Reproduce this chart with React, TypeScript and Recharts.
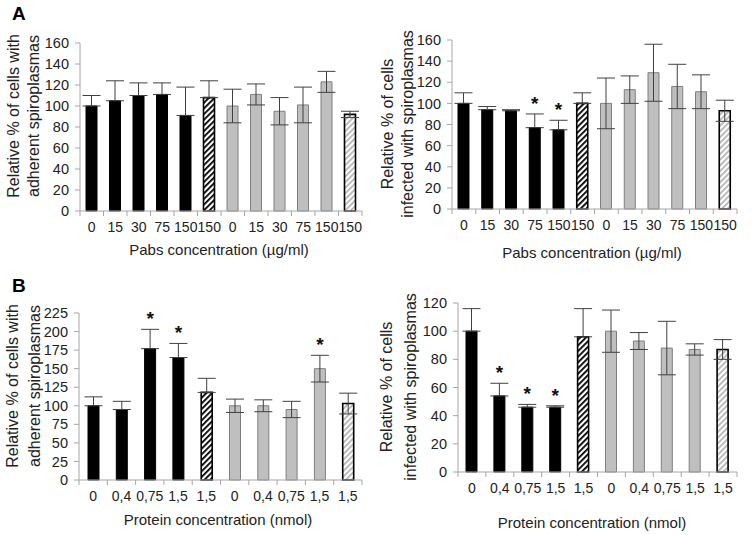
import { BarChart, Bar, XAxis, YAxis, Cell, ErrorBar, LabelList } from 'recharts'

const FONT = '"Liberation Sans", Arial, sans-serif'
const AXIS = '#a6a6a6'
const TEXT = '#222222'

// Panel A: Pabs concentration
const groupsA = ['0', '15', '30', '75', '150', '150', '0', '15', '30', '75', '150', '150']
const kindsA = ['black', 'black', 'black', 'black', 'black', 'hatchDark', 'gray', 'gray', 'gray', 'gray', 'gray', 'hatchLight']
const adherentA = [100, 105, 110, 111, 91, 108, 100, 111, 95, 101, 123, 92]
const adherentAErr = [10, 19, 12, 11, 27, 16, 16, 10, 13, 17, 10, 3]
const adherentASig = ['', '', '', '', '', '', '', '', '', '', '', '']
const infectedA = [100, 94, 93, 77, 75, 100, 100, 113, 129, 116, 111, 93]
const infectedAErr = [10, 3, 1, 13, 9, 10, 24, 13, 27, 21, 16, 10]
const infectedASig = ['', '', '', '*', '*', '', '', '', '', '', '', '']
const ticksA = [0, 20, 40, 60, 80, 100, 120, 140, 160]

// Panel B: protein concentration
const groupsB = ['0', '0,4', '0,75', '1,5', '1,5', '0', '0,4', '0,75', '1,5', '1,5']
const kindsB = ['black', 'black', 'black', 'black', 'hatchDark', 'gray', 'gray', 'gray', 'gray', 'hatchLight']
const adherentB = [100, 95, 177, 165, 118, 100, 100, 95, 150, 103]
const adherentBErr = [12, 11, 26, 19, 19, 9, 8, 11, 18, 14]
const adherentBSig = ['', '', '*', '*', '', '', '', '', '*', '']
const ticksBLeft = [0, 25, 50, 75, 100, 125, 150, 175, 200, 225]
const infectedB = [100, 54, 46, 46, 96, 100, 93, 88, 87, 87]
const infectedBErr = [16, 9, 2, 1, 20, 15, 6, 19, 4, 7]
const infectedBSig = ['', '*', '*', '*', '', '', '', '', '', '']
const ticksBRight = [0, 20, 40, 60, 80, 100, 120]

// "opaque" bars hide the lower half of their error bar, as in the original figure
const STYLES: Record<string, { fill: string; stroke: string; sw: number; opaque: boolean }> = {
  black: { fill: '#000000', stroke: '#000000', sw: 1, opaque: true },
  hatchDark: { fill: 'url(#hatchDark)', stroke: '#000000', sw: 1.6, opaque: true },
  gray: { fill: '#bfbfbf', stroke: '#7f7f7f', sw: 1, opaque: false },
  hatchLight: { fill: 'url(#hatchLight)', stroke: '#000000', sw: 1.6, opaque: false },
}

type PanelProps = {
  left: number
  top: number
  width: number
  height: number
  margin: { top: number; right: number; left: number; bottom: number }
  yWidth: number
  xHeight: number
  ticks: number[]
  labels: string[]
  kinds: string[]
  values: number[]
  errs: number[]
  sigs: string[]
  yLines: string[]
  yLineX: number[]
  yCenter: number
  xTitle: string
  xTitleX: number
  xTitleY: number
}

function Panel(p: PanelProps) {
  const data = p.labels.map((name, i) => ({
    name,
    value: p.values[i],
    err: p.errs[i],
    opaque: STYLES[p.kinds[i]].opaque,
    sig: p.sigs[i],
  }))

  const renderTick = (props: any) => {
    const { x, y, payload, index, visibleTicksCount } = props
    const half = payload?.offset ?? 0
    const axisY = y - 8
    const idx = payload?.index ?? index
    return (
      <g>
        <line x1={x - half} x2={x - half} y1={axisY} y2={axisY + 5} stroke={AXIS} />
        {index === visibleTicksCount - 1 && (
          <line x1={x + half} x2={x + half} y1={axisY} y2={axisY + 5} stroke={AXIS} />
        )}
        <text x={x} y={axisY + 21} textAnchor="middle" fill={TEXT} fontSize={14} fontFamily={FONT}>
          {p.labels[idx]}
        </text>
      </g>
    )
  }

  const renderStar = (props: any) => {
    const { x, y, width, height, index, value } = props
    if (!value) return null
    const v = p.values[index]
    const errPx = v ? (Math.abs(height) * p.errs[index]) / v : 0
    return (
      <text x={x + width / 2} y={y - errPx - 4} textAnchor="middle" fontSize={19} fontWeight="bold" fill="#111" fontFamily={FONT}>
        *
      </text>
    )
  }

  return (
    <div style={{ position: 'absolute', left: p.left, top: p.top, width: p.width, height: p.height }}>
      <BarChart width={p.width} height={p.height} data={data} margin={p.margin} barCategoryGap={0}>
        <XAxis
          dataKey="name"
          height={p.xHeight}
          interval={0}
          tickLine={false}
          axisLine={{ stroke: AXIS }}
          tick={renderTick}
        />
        <YAxis
          width={p.yWidth}
          domain={[p.ticks[0], p.ticks[p.ticks.length - 1]]}
          ticks={p.ticks}
          interval={0}
          tickSize={5}
          tickMargin={6}
          axisLine={{ stroke: AXIS }}
          tickLine={{ stroke: AXIS }}
          tick={{ fill: TEXT, fontSize: 14.5, fontFamily: FONT }}
        />
        <Bar dataKey="value" barSize={11} isAnimationActive={false}>
          {data.map((_, i) => {
            const s = STYLES[p.kinds[i]]
            return <Cell key={i} fill={s.fill} stroke={s.stroke} strokeWidth={s.sw} />
          })}
          <ErrorBar
            dataKey={(d: any) => (d.opaque ? [0, d.err] : [d.err, d.err])}
            width={9}
            stroke="#404040"
            strokeWidth={1}
            direction="y"
          />
          <LabelList dataKey="sig" content={renderStar} />
        </Bar>
      </BarChart>
      {p.yLines.map((line, i) => (
        <div
          key={line}
          style={{
            position: 'absolute',
            left: p.yLineX[i],
            top: p.yCenter,
            transform: 'translate(-50%, -50%) rotate(-90deg)',
            whiteSpace: 'nowrap',
            fontFamily: FONT,
            fontSize: 16,
            color: TEXT,
            lineHeight: '18px',
          }}
        >
          {line}
        </div>
      ))}
      <div
        style={{
          position: 'absolute',
          left: p.xTitleX,
          top: p.xTitleY,
          transform: 'translate(-50%, -50%)',
          whiteSpace: 'nowrap',
          fontFamily: FONT,
          fontSize: 15,
          color: TEXT,
          lineHeight: '18px',
        }}
      >
        {p.xTitle}
      </div>
    </div>
  )
}

export default function App() {
  return (
    <div style={{ position: 'absolute', left: 0, top: 0, width: 755, height: 535, background: '#fff', overflow: 'hidden' }}>
      <svg width={0} height={0} style={{ position: 'absolute' }}>
        <defs>
          <pattern id="hatchDark" patternUnits="userSpaceOnUse" width={4} height={4} patternTransform="rotate(45)">
            <rect width={4} height={4} fill="#fff" />
            <rect width={1.8} height={4} fill="#000" />
          </pattern>
          <pattern id="hatchLight" patternUnits="userSpaceOnUse" width={4} height={4} patternTransform="rotate(45)">
            <rect width={4} height={4} fill="#fff" />
            <rect width={1.8} height={4} fill="#b5b5b5" />
          </pattern>
        </defs>
      </svg>

      <div style={{ position: 'absolute', left: 12, top: 3, fontFamily: FONT, fontWeight: 'bold', fontSize: 19 }}>A</div>
      <div style={{ position: 'absolute', left: 12, top: 275, fontFamily: FONT, fontWeight: 'bold', fontSize: 19 }}>B</div>

      <Panel
        left={0} top={0} width={375} height={270}
        margin={{ top: 43, right: 13, left: 0, bottom: 0 }}
        yWidth={80} xHeight={59}
        ticks={ticksA} labels={groupsA} kinds={kindsA}
        values={adherentA} errs={adherentAErr} sigs={adherentASig}
        yLines={['Relative % of cells with', 'adherent spiroplasmas']} yLineX={[14, 34]} yCenter={116}
        xTitle="Pabs concentration (µg/ml)" xTitleX={219} xTitleY={250}
      />
      <Panel
        left={375} top={0} width={380} height={270}
        margin={{ top: 40, right: 18, left: 0, bottom: 0 }}
        yWidth={77} xHeight={61}
        ticks={ticksA} labels={groupsA} kinds={kindsA}
        values={infectedA} errs={infectedAErr} sigs={infectedASig}
        yLines={['Relative % of cells', 'infected with spiroplasmas']} yLineX={[13, 33]} yCenter={124}
        xTitle="Pabs concentration (µg/ml)" xTitleX={217} xTitleY={253}
      />
      <Panel
        left={0} top={270} width={375} height={265}
        margin={{ top: 43, right: 13, left: 0, bottom: 0 }}
        yWidth={79} xHeight={55}
        ticks={ticksBLeft} labels={groupsB} kinds={kindsB}
        values={adherentB} errs={adherentBErr} sigs={adherentBSig}
        yLines={['Relative % of cells with', 'adherent spiroplasmas']} yLineX={[13, 35]} yCenter={116}
        xTitle="Protein concentration (nmol)" xTitleX={218} xTitleY={250}
      />
      <Panel
        left={375} top={270} width={380} height={265}
        margin={{ top: 33, right: 18, left: 0, bottom: 0 }}
        yWidth={83} xHeight={63}
        ticks={ticksBRight} labels={groupsB} kinds={kindsB}
        values={infectedB} errs={infectedBErr} sigs={infectedBSig}
        yLines={['Relative % of cells', 'infected with spiroplasmas']} yLineX={[12, 36]} yCenter={117}
        xTitle="Protein concentration (nmol)" xTitleX={217} xTitleY={253}
      />
    </div>
  )
}
